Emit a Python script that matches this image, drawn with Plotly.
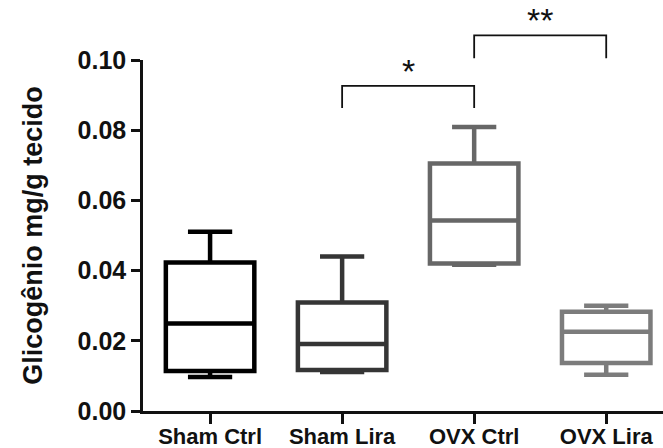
import plotly.graph_objects as go

groups = ["Sham Ctrl", "Sham Lira", "OVX Ctrl", "OVX Lira"]
lower = [0.0097, 0.0111, 0.0417, 0.0103]
q1 = [0.0114, 0.0117, 0.0420, 0.0137]
median = [0.0249, 0.0191, 0.0543, 0.0226]
q3 = [0.0423, 0.0309, 0.0705, 0.0283]
upper = [0.0511, 0.0440, 0.0809, 0.0300]
colors = ["#000000", "#353535", "#676767", "#7c7c7c"]

# significance brackets: (group a, group b, bracket top, leg bottom, label)
brackets = [(1, 2, 0.0926, 0.0863, "*"), (2, 3, 0.1070, 0.1005, "**")]

y_range = [0, 0.10]
x_range = [-0.508, 3.43]

fig = go.Figure()
for i, g in enumerate(groups):
    fig.add_trace(go.Box(
        x=[g], q1=[q1[i]], median=[median[i]], q3=[q3[i]],
        lowerfence=[lower[i]], upperfence=[upper[i]],
        line=dict(color=colors[i], width=4.5), fillcolor="rgba(255,255,255,0)",
        width=0.67, whiskerwidth=0.5, boxpoints=False, showlegend=False,
        hoverinfo="skip",
    ))

def px(i):
    return (i - x_range[0]) / (x_range[1] - x_range[0])

def py(v):
    return (v - y_range[0]) / (y_range[1] - y_range[0])

shapes = []
annotations = []
for a, b, top, leg, lab in brackets:
    shapes.append(dict(type="path", xref="paper", yref="paper",
                       path=f"M {px(a)} {py(leg)} L {px(a)} {py(top)} L {px(b)} {py(top)} L {px(b)} {py(leg)}",
                       line=dict(color="#111111", width=1.8)))
    annotations.append(dict(x=(a + b) / 2, xref="x", y=py(top), yref="paper",
                            text=lab, showarrow=False, yanchor="bottom", yshift=-6,
                            font=dict(size=34, color="#111111", family="Liberation Sans")))

fig.update_layout(
    width=663, height=448,
    margin=dict(l=143, r=0, t=60, b=37),
    plot_bgcolor="white", paper_bgcolor="white",
    boxmode="overlay",
    font=dict(family="Liberation Sans", color="#111111"),
    shapes=shapes, annotations=annotations,
    xaxis=dict(range=x_range, showgrid=False, zeroline=False, automargin=False,
               showline=True, linecolor="#111111", linewidth=2.5,
               ticks="outside", ticklen=10, tickwidth=2.5, tickcolor="#111111",
               ticklabelstandoff=-6,
               tickfont=dict(size=22, weight="bold", family="Liberation Sans")),
    yaxis=dict(range=y_range, showgrid=False, zeroline=False, automargin=False,
               showline=True, linecolor="#111111", linewidth=2.5,
               ticks="outside", ticklen=9, tickwidth=2.5, tickcolor="#111111",
               tickvals=[0, 0.02, 0.04, 0.06, 0.08, 0.10], tickformat=".2f",
               tickfont=dict(size=25, weight="bold", family="Liberation Sans"),
               title=dict(text="Glicogênio mg/g tecido", standoff=28,
                          font=dict(size=27, weight="bold", family="Liberation Sans"))),
)

fig.write_html("out.html")
